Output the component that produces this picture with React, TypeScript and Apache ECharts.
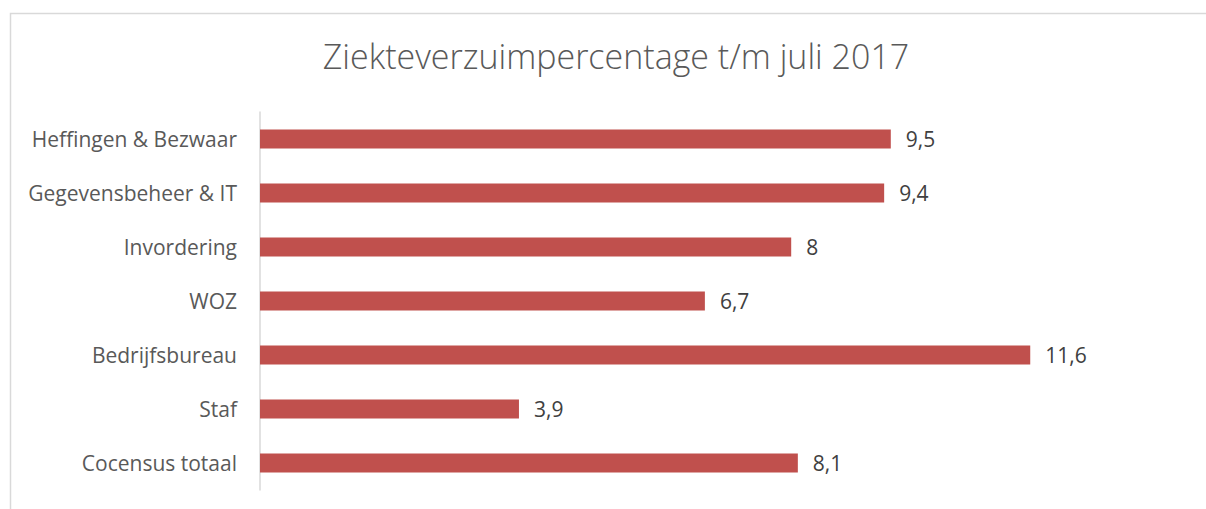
import React, { useEffect, useRef } from "react";
import * as echarts from "echarts";

const categories = [
  "Heffingen & Bezwaar",
  "Gegevensbeheer & IT",
  "Invordering",
  "WOZ",
  "Bedrijfsbureau",
  "Staf",
  "Cocensus totaal",
];
const values = [9.5, 9.4, 8, 6.7, 11.6, 3.9, 8.1];
const titleText = "Ziekteverzuimpercentage t/m juli 2017";

export default function App() {
  const ref = useRef<HTMLDivElement>(null);
  useEffect(() => {
    if (!ref.current) return;
    const chart = echarts.init(ref.current, null, { renderer: "svg" });
    chart.setOption({
      animation: false,
      backgroundColor: "#ffffff",
      title: {
        text: titleText,
        left: 611,
        textAlign: "center",
        top: 34,
        textStyle: {
          fontFamily: "Open Sans",
          fontWeight: 300,
          fontSize: 34,
          color: "#595959",
        },
      },
      graphic: [
        {
          type: "rect",
          shape: { x: 10.5, y: 13.5, width: 1400, height: 700 },
          style: { fill: "none", stroke: "#d9d9d9", lineWidth: 1.5 },
          silent: true,
        },
      ],
      grid: { left: 260, top: 112, width: 796.8, height: 378, containLabel: false },
      xAxis: {
        type: "value",
        min: 0,
        max: 12,
        show: false,
        splitLine: { show: false },
      },
      yAxis: {
        type: "category",
        data: categories,
        inverse: true,
        axisLine: { show: true, lineStyle: { color: "#d9d9d9", width: 1.5 } },
        axisTick: { show: false },
        axisLabel: {
          margin: 23,
          fontFamily: "Open Sans",
          fontSize: 21,
          color: "#595959",
        },
      },
      series: [
        {
          type: "bar",
          data: values,
          barWidth: "35%",
          itemStyle: { color: "#C0504D" },
          label: {
            show: true,
            position: "right",
            distance: 15,
            fontFamily: "Open Sans",
            fontSize: 21,
            color: "#404040",
            formatter: (p: any) => String(p.value).replace(".", ","),
          },
        },
      ],
    });
    return () => chart.dispose();
  }, []);
  return (
    <div
      ref={ref}
      style={{ position: "absolute", left: 0, top: 0, width: 1206, height: 509 }}
    />
  );
}
